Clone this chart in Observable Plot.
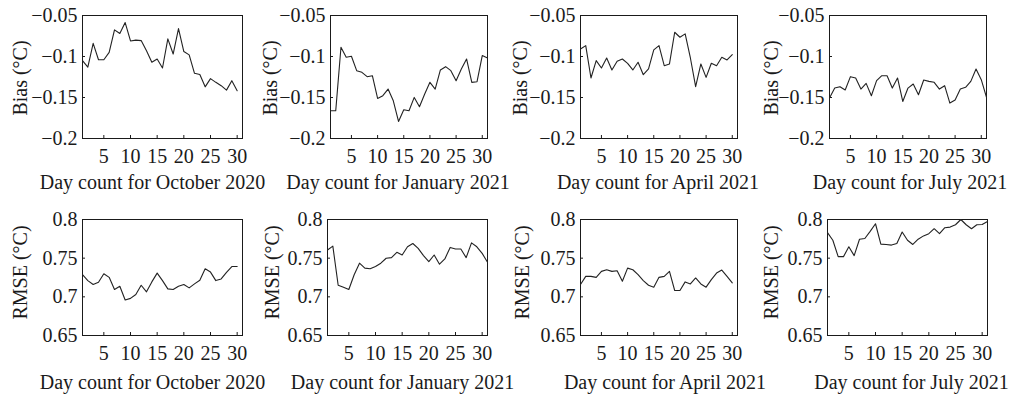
<!DOCTYPE html>
<html>
<head>
<meta charset="utf-8">
<script src="https://cdn.jsdelivr.net/npm/d3@7"></script>
<script src="https://cdn.jsdelivr.net/npm/@observablehq/plot@0.6"></script>
<style>
  html, body { margin: 0; padding: 0; background: #fff; }
  #chart { position: relative; width: 1009px; height: 396px; overflow: hidden; background: #fff; }
  #chart svg { position: absolute; overflow: visible; }
</style>
</head>
<body>
<div id="chart"></div>
<script>
// ---- Data ----
const xTicks = [5, 10, 15, 20, 25, 30];
const biasTicks = [-0.2, -0.15, -0.1, -0.05];
const rmseTicks = [0.65, 0.7, 0.75, 0.8];
const months = ["October 2020", "January 2021", "April 2021", "July 2021"];
const yTitles = {bias: "Bias (°C)", rmse: "RMSE (°C)"};

const octBias = [-0.105, -0.113, -0.084, -0.104, -0.104, -0.095, -0.0675, -0.072, -0.0586, -0.081,
  -0.080, -0.0806, -0.093, -0.107, -0.103, -0.114, -0.0785, -0.097, -0.066, -0.094,
  -0.098, -0.1205, -0.122, -0.137, -0.127, -0.1315, -0.1356, -0.141, -0.1295, -0.1417];
const janBias = [-0.1662, -0.1662, -0.0887, -0.101, -0.0997, -0.1173, -0.1193, -0.1246, -0.1234, -0.1511,
  -0.1478, -0.1397, -0.154, -0.1792, -0.165, -0.1662, -0.1499, -0.1613, -0.1458, -0.1315,
  -0.1397, -0.1164, -0.1124, -0.1173, -0.1295, -0.1152, -0.103, -0.1315, -0.1307, -0.0989, -0.1018];
const aprBias = [-0.0908, -0.0867, -0.1262, -0.105, -0.114, -0.1018, -0.1164, -0.1058, -0.103, -0.1083,
  -0.1164, -0.107, -0.1222, -0.1152, -0.092, -0.0867, -0.1112, -0.1091, -0.0704, -0.0765,
  -0.0724, -0.1018, -0.1368, -0.1091, -0.1254, -0.1083, -0.1112, -0.101, -0.1042, -0.0977];
const julBias = [-0.1507, -0.1385, -0.1368, -0.1409, -0.1246, -0.1262, -0.1397, -0.1328, -0.1478, -0.1295,
  -0.1234, -0.1234, -0.1385, -0.1262, -0.1548, -0.1385, -0.1336, -0.1466, -0.1287, -0.1303,
  -0.1315, -0.1397, -0.1356, -0.1568, -0.1531, -0.1397, -0.1376, -0.1303, -0.1152, -0.1283, -0.1499];

const octRmse = [0.7286, 0.721, 0.7159, 0.7188, 0.7299, 0.7252, 0.7095, 0.7137, 0.6959, 0.698,
  0.7031, 0.715, 0.7065, 0.7193, 0.7307, 0.721, 0.7103, 0.7095, 0.7137, 0.7159,
  0.7116, 0.7167, 0.7214, 0.7363, 0.732, 0.721, 0.7231, 0.7316, 0.7392, 0.7392];
const janRmse = [0.7605, 0.7656, 0.715, 0.7125, 0.7095, 0.7286, 0.7435, 0.7371, 0.7363, 0.7392,
  0.7435, 0.7499, 0.7507, 0.7575, 0.7541, 0.7647, 0.769, 0.7626, 0.7533, 0.7456,
  0.7541, 0.7422, 0.749, 0.7639, 0.7618, 0.7618, 0.7507, 0.7698, 0.7647, 0.7562, 0.7448];
const aprRmse = [0.7159, 0.7265, 0.7265, 0.7252, 0.7329, 0.735, 0.7329, 0.7337, 0.7201, 0.7371,
  0.735, 0.7286, 0.721, 0.715, 0.7125, 0.7252, 0.7265, 0.7329, 0.7082, 0.7082,
  0.7193, 0.7167, 0.7244, 0.7167, 0.7125, 0.7223, 0.7307, 0.7346, 0.7265, 0.718];
const julRmse = [0.783, 0.7732, 0.752, 0.752, 0.7647, 0.7533, 0.7745, 0.7754, 0.7847, 0.7945,
  0.7681, 0.7677, 0.7669, 0.769, 0.7839, 0.7732, 0.7677, 0.7745, 0.7788, 0.7817,
  0.7881, 0.7817, 0.7894, 0.7902, 0.7932, 0.8, 0.7932, 0.7881, 0.7932, 0.7936, 0.7975];

// ---- Layout of the eight panels (frame edges in page pixels, title offsets) ----
const panels = [
  {values: octBias, month: 0, kind: "bias", L: 82, R: 242, T: 15, B: 138, tdx: -10, tdy: 50, ydx: -62, ydy: 1},
  {values: janBias, month: 1, kind: "bias", L: 330, R: 487, T: 15, B: 138, tdx: -11, tdy: 50, ydx: -60, ydy: 1},
  {values: aprBias, month: 2, kind: "bias", L: 580, R: 737, T: 15, B: 138, tdx: -1, tdy: 50, ydx: -60, ydy: 1},
  {values: julBias, month: 3, kind: "bias", L: 829, R: 986, T: 15, B: 138, tdx: 2, tdy: 50, ydx: -58, ydy: 1},
  {values: octRmse, month: 0, kind: "rmse", L: 82, R: 242, T: 219, B: 335, tdx: -10, tdy: 53, ydx: -62, ydy: -5},
  {values: janRmse, month: 1, kind: "rmse", L: 327, R: 487, T: 219, B: 335, tdx: -5, tdy: 53, ydx: -55, ydy: -5},
  {values: aprRmse, month: 2, kind: "rmse", L: 580, R: 737, T: 219, B: 335, tdx: 6, tdy: 53, ydx: -58, ydy: -5},
  {values: julRmse, month: 3, kind: "rmse", L: 827, R: 987, T: 219, B: 335, tdx: 4, tdy: 53, ydx: -56, ydy: -5}
];

const ML = 80, MR = 12, MT = 10, MB = 62;
const fmt = d3.format(".2~f");
const ink = "#1a1a1a";
const chart = document.getElementById("chart");

for (const p of panels) {
  const data = p.values.map((v, i) => ({day: i + 1, v}));
  const isBias = p.kind === "bias";
  const yTicks = isBias ? biasTicks : rmseTicks;
  const svg = Plot.plot({
    width: (p.R - p.L) + ML + MR,
    height: (p.B - p.T) + MT + MB,
    marginLeft: ML, marginRight: MR, marginTop: MT, marginBottom: MB,
    style: {background: "transparent", fontFamily: "'Liberation Serif', 'Times New Roman', serif", fontSize: "20px", color: ink, overflow: "visible"},
    x: {domain: [1, 31]},
    y: {domain: isBias ? [-0.2, -0.05] : [0.65, 0.8]},
    marks: [
      Plot.frame({stroke: ink, strokeWidth: 1}),
      Plot.axisX(xTicks, {anchor: "bottom", tickSize: -3, text: null, label: null, stroke: ink}),
      Plot.axisX(xTicks, {anchor: "bottom", tickSize: 0, tickPadding: 10, label: null, fill: ink}),
      Plot.axisY(yTicks, {anchor: "left", tickSize: -3, text: null, label: null, stroke: ink}),
      Plot.axisY(yTicks, {anchor: "left", tickSize: 0, tickPadding: 5, tickFormat: fmt, label: null, fill: ink}),
      Plot.text(["Day count for " + months[p.month]], {frameAnchor: "bottom", textAnchor: "middle", lineAnchor: "bottom", dx: p.tdx, dy: p.tdy, fill: ink}),
      Plot.text([yTitles[p.kind]], {frameAnchor: "left", rotate: -90, textAnchor: "middle", lineAnchor: "middle", dx: p.ydx, dy: p.ydy, fill: ink}),
      Plot.line(data, {x: "day", y: "v", stroke: "#222", strokeWidth: 1.1})
    ]
  });
  svg.style.left = (p.L - ML) + "px";
  svg.style.top = (p.T - MT) + "px";
  chart.appendChild(svg);
}
</script>
</body>
</html>
